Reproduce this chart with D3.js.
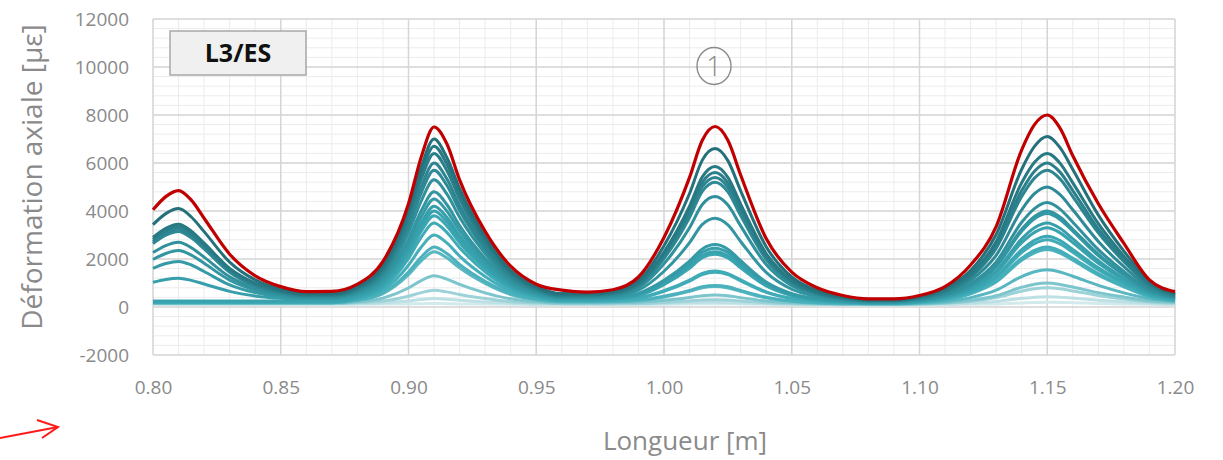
<!DOCTYPE html>
<html>
<head>
<meta charset="utf-8">
<script src="https://cdn.jsdelivr.net/npm/d3@7"></script>
<style>
  body { margin: 0; background: #fff; }
  svg { display: block; font-family: "Open Sans", sans-serif; }
</style>
</head>
<body>
<div id="chart"></div>
<script>
// positions along the bar [m]
const lengths = [0.80, 0.805, 0.81, 0.815, 0.82, 0.83, 0.84, 0.85, 0.86, 0.87, 0.88, 0.89, 0.90, 0.905, 0.91, 0.915,
  0.92, 0.93, 0.94, 0.95, 0.96, 0.97, 0.98, 0.99, 1.00, 1.01, 1.015, 1.02, 1.025, 1.03, 1.04, 1.05, 1.06, 1.07,
  1.08, 1.09, 1.10, 1.11, 1.12, 1.13, 1.14, 1.145, 1.15, 1.155, 1.16, 1.17, 1.18, 1.19, 1.20];

// last (max) load step, drawn in red
const envelope = [4050, 4600, 4850, 4450, 3700, 2200, 1300, 850, 640, 650, 950, 1900, 4300, 6250, 7500, 6800,
  5300, 3150, 1700, 950, 700, 620, 720, 1250, 2900, 5400, 6950, 7520, 6950, 5500, 2850, 1450, 800, 480,
  340, 340, 480, 850, 1750, 3350, 6550, 7600, 8000, 7450, 6300, 4300, 2650, 1130, 640];

// earlier load steps, highest first
const load01 = [3430, 3890, 4100, 3750, 3140, 1870, 1130, 740, 560, 560, 850, 1720, 4100, 5840, 7000, 6230,
  4940, 2940, 1530, 850, 560, 560, 650, 1100, 2550, 4730, 6120, 6600, 6100, 4840, 2510, 1250, 680, 430,
  300, 300, 440, 780, 1520, 3020, 5740, 6690, 7100, 6640, 5730, 3830, 2330, 1080, 560];
const load02 = [2900, 3280, 3450, 3160, 2660, 1610, 1000, 680, 530, 530, 810, 1640, 3920, 5590, 6700, 5960,
  4730, 2810, 1460, 810, 530, 530, 610, 1010, 2290, 4200, 5420, 5850, 5400, 4290, 2230, 1120, 610, 390,
  280, 280, 400, 710, 1380, 2730, 5180, 6030, 6400, 5990, 5170, 3470, 2120, 1000, 530];
const load03 = [2810, 3180, 3350, 3070, 2580, 1560, 960, 640, 500, 500, 770, 1560, 3750, 5340, 6400, 5690,
  4510, 2680, 1390, 770, 500, 500, 580, 960, 2180, 4020, 5190, 5600, 5170, 4110, 2140, 1070, 590, 380,
  270, 270, 390, 670, 1300, 2560, 4850, 5660, 6000, 5620, 4850, 3250, 1990, 940, 500];
const load04 = [2720, 3080, 3250, 2970, 2500, 1510, 920, 620, 480, 480, 730, 1470, 3520, 5010, 6000, 5340,
  4230, 2520, 1310, 730, 480, 480, 550, 920, 2100, 3880, 5010, 5400, 4990, 3960, 2060, 1030, 570, 360,
  260, 260, 370, 640, 1240, 2440, 4610, 5370, 5700, 5340, 4600, 3090, 1890, 900, 480];
const load05 = [2640, 2990, 3150, 2880, 2420, 1450, 880, 590, 450, 450, 690, 1400, 3340, 4760, 5700, 5070,
  4020, 2390, 1240, 690, 450, 450, 520, 880, 2020, 3730, 4820, 5200, 4800, 3810, 1980, 990, 550, 350,
  250, 250, 350, 580, 1110, 2150, 4050, 4720, 5000, 4680, 4050, 2730, 1680, 810, 450];
const load06 = [2270, 2560, 2700, 2470, 2080, 1260, 790, 530, 420, 420, 640, 1300, 3100, 4420, 5300, 4710,
  3740, 2230, 1150, 640, 420, 420, 480, 800, 1800, 3300, 4270, 4600, 4250, 3380, 1770, 890, 500, 330,
  240, 240, 320, 530, 980, 1880, 3530, 4100, 4350, 4080, 3530, 2390, 1480, 730, 420];
const load07 = [1980, 2230, 2350, 2160, 1820, 1120, 710, 500, 400, 400, 600, 1190, 2820, 4010, 4800, 4270,
  3390, 2030, 1060, 600, 400, 400, 450, 700, 1490, 2680, 3440, 3700, 3420, 2730, 1440, 740, 430, 290,
  220, 220, 300, 490, 900, 1730, 3240, 3770, 4000, 3750, 3240, 2200, 1370, 690, 400];
const load08 = [1610, 1810, 1900, 1750, 1480, 920, 600, 430, 350, 350, 540, 1100, 2630, 3750, 4500, 4000,
  3180, 1900, 990, 560, 370, 370, 400, 570, 1110, 1910, 2420, 2600, 2410, 1930, 1040, 560, 340, 250,
  200, 200, 270, 460, 870, 1680, 3160, 3680, 3900, 3650, 3160, 2140, 1330, 660, 380];
const load09 = [1030, 1150, 1200, 1110, 960, 650, 460, 360, 320, 320, 500, 1020, 2450, 3500, 4200, 3740,
  2970, 1770, 920, 510, 340, 340, 370, 530, 1040, 1800, 2280, 2450, 2270, 1820, 980, 530, 330, 240,
  190, 190, 260, 420, 790, 1510, 2840, 3300, 3500, 3280, 2840, 1930, 1200, 600, 350];
const load10 = [250, 250, 250, 250, 250, 250, 250, 250, 250, 250, 420, 930, 2310, 3330, 4000, 3560,
  2820, 1680, 870, 490, 320, 320, 350, 500, 970, 1690, 2140, 2300, 2130, 1710, 920, 500, 310, 220,
  180, 180, 240, 400, 740, 1430, 2680, 3110, 3300, 3090, 2680, 1820, 1130, 570, 330];
const load11 = [220, 220, 220, 220, 220, 220, 220, 220, 220, 220, 380, 860, 2190, 3160, 3800, 3380,
  2680, 1600, 830, 460, 300, 300, 330, 470, 930, 1610, 2050, 2200, 2040, 1630, 880, 480, 290, 210,
  170, 170, 230, 370, 670, 1280, 2390, 2780, 2950, 2770, 2400, 1630, 1020, 520, 310];
const load12 = [200, 200, 200, 200, 200, 200, 200, 200, 200, 200, 350, 790, 2020, 2910, 3500, 3110,
  2470, 1470, 760, 420, 270, 270, 290, 380, 680, 1120, 1400, 1500, 1390, 1130, 630, 360, 240, 190,
  160, 160, 210, 350, 640, 1220, 2270, 2640, 2800, 2630, 2280, 1550, 980, 500, 300];
const load13 = [200, 200, 200, 200, 200, 200, 200, 200, 200, 200, 330, 700, 1740, 2500, 3000, 2670,
  2120, 1270, 660, 370, 250, 250, 270, 360, 650, 1080, 1350, 1450, 1350, 1090, 610, 350, 230, 180,
  150, 150, 200, 310, 570, 1090, 2030, 2360, 2500, 2340, 2030, 1390, 880, 460, 280];
const load14 = [180, 180, 180, 180, 180, 180, 180, 180, 180, 180, 280, 600, 1460, 2080, 2500, 2230,
  1770, 1070, 570, 330, 230, 230, 240, 290, 450, 690, 850, 900, 840, 690, 410, 250, 190, 160,
  140, 140, 190, 300, 550, 1040, 1950, 2260, 2400, 2250, 1950, 1330, 840, 430, 260];
const load15 = [180, 180, 180, 180, 180, 180, 180, 180, 180, 180, 280, 560, 1350, 1920, 2300, 2050,
  1630, 980, 520, 300, 210, 210, 220, 270, 420, 650, 800, 850, 790, 650, 380, 240, 170, 140,
  130, 130, 160, 230, 390, 700, 1270, 1470, 1550, 1460, 1280, 900, 590, 350, 240];
const load16 = [160, 160, 160, 160, 160, 160, 160, 160, 160, 160, 210, 370, 790, 1100, 1300, 1160,
  940, 590, 340, 220, 170, 170, 180, 200, 280, 400, 470, 500, 470, 390, 250, 180, 140, 130,
  120, 120, 140, 180, 280, 470, 820, 950, 1000, 940, 830, 600, 420, 260, 200];
const load17 = [150, 150, 150, 150, 150, 150, 150, 150, 150, 150, 180, 250, 450, 600, 700, 630,
  520, 350, 220, 170, 140, 140, 140, 150, 190, 250, 290, 300, 290, 250, 180, 140, 120, 110,
  110, 110, 120, 160, 230, 390, 660, 760, 800, 760, 670, 480, 330, 210, 160];
const load18 = [130, 130, 130, 130, 130, 130, 130, 130, 130, 130, 140, 170, 250, 310, 350, 320,
  280, 210, 160, 130, 120, 120, 120, 130, 150, 180, 190, 200, 190, 170, 140, 120, 110, 100,
  100, 100, 110, 120, 160, 230, 360, 410, 430, 410, 370, 280, 210, 150, 130];
const load19 = [110, 110, 110, 110, 110, 110, 110, 110, 110, 110, 110, 120, 140, 140, 150, 140,
  130, 120, 110, 100, 100, 100, 100, 100, 110, 130, 140, 140, 140, 130, 110, 100, 90, 90,
  90, 90, 90, 100, 110, 130, 170, 190, 200, 190, 180, 150, 130, 110, 100];

const loads = [load01, load02, load03, load04, load05, load06, load07, load08, load09, load10,
  load11, load12, load13, load14, load15, load16, load17, load18, load19];
const loadColours = ['#24717b', '#277984', '#2a7f8a', '#2c8590', '#2e8a96', '#30909c', '#3295a1', '#349aa6',
  '#369fab', '#38a3af', '#3ba7b3', '#3fabb7', '#44afba', '#4bb2bd', '#58b7c1', '#7cc5cd', '#9cd2d8',
  '#bde0e4', '#d3eaed'];

const xTicks = [0.80, 0.85, 0.90, 0.95, 1.00, 1.05, 1.10, 1.15, 1.20];
const yTicks = [-2000, 0, 2000, 4000, 6000, 8000, 10000, 12000];

const width = 1223, height = 460;
const margin = { left: 153, right: 48, top: 19, bottom: 105 };

const svg = d3.select('#chart').append('svg')
  .attr('width', width).attr('height', height);

const x = d3.scaleLinear().domain([0.80, 1.20]).range([margin.left, width - margin.right]);
const y = d3.scaleLinear().domain([-2000, 12000]).range([height - margin.bottom, margin.top]);

// grid: minor then major
const grid = svg.append('g');
grid.selectAll('.vmin').data(d3.range(0.80, 1.2001, 0.01)).enter().append('line')
  .attr('x1', d => x(d)).attr('x2', d => x(d)).attr('y1', y(-2000)).attr('y2', y(12000))
  .attr('stroke', '#ececec').attr('stroke-width', 1);
grid.selectAll('.hmin').data(d3.range(-2000, 12001, 400)).enter().append('line')
  .attr('y1', d => y(d)).attr('y2', d => y(d)).attr('x1', x(0.80)).attr('x2', x(1.20))
  .attr('stroke', '#ececec').attr('stroke-width', 1);
grid.selectAll('.vmaj').data(xTicks).enter().append('line')
  .attr('x1', d => x(d)).attr('x2', d => x(d)).attr('y1', y(-2000)).attr('y2', y(12000))
  .attr('stroke', '#d6d6d6').attr('stroke-width', 1.5);
grid.selectAll('.hmaj').data(yTicks).enter().append('line')
  .attr('y1', d => y(d)).attr('y2', d => y(d)).attr('x1', x(0.80)).attr('x2', x(1.20))
  .attr('stroke', '#d6d6d6').attr('stroke-width', 1.5);

// axes (plain hyphen for the negative label, like the original)
const yAxis = svg.append('g').attr('transform', `translate(${margin.left},0)`)
  .call(d3.axisLeft(y).tickValues(yTicks).tickSize(0).tickPadding(24).tickFormat(d => String(d)));
const xAxis = svg.append('g').attr('transform', `translate(0,${y(-2000)})`)
  .call(d3.axisBottom(x).tickValues(xTicks).tickSize(0).tickPadding(26).tickFormat(d3.format('.2f')));
[xAxis, yAxis].forEach(a => {
  a.select('.domain').remove();
  a.selectAll('text').attr('fill', '#8a8a8a').style('font-size', '19px')
    .style('font-family', '"Open Sans", sans-serif');
});

// curves
const line = d3.line()
  .x((d, i) => x(lengths[i]))
  .y(d => y(d))
  .curve(d3.curveMonotoneX);

const curves = svg.append('g').attr('fill', 'none').attr('stroke-linejoin', 'round');
loads.slice().reverse().forEach((s, k) => {
  const i = loads.length - 1 - k;
  curves.append('path').attr('d', line(s))
    .attr('stroke', loadColours[i]).attr('stroke-width', 3);
});
curves.append('path').attr('d', line(envelope))
  .attr('stroke', '#c00000').attr('stroke-width', 3.2);

// label box
svg.append('rect').attr('x', 170).attr('y', 31).attr('width', 136).attr('height', 44)
  .attr('fill', '#f0f0f0').attr('stroke', '#a8a8a8').attr('stroke-width', 1.5);
svg.append('text').attr('x', 238).attr('y', 62).attr('text-anchor', 'middle')
  .attr('fill', '#111').style('font-size', '25px').style('font-weight', 'bold')
  .text('L3/ES');

// circled marker
svg.append('ellipse').attr('cx', 714).attr('cy', 66).attr('rx', 17).attr('ry', 18.5)
  .attr('fill', 'none').attr('stroke', '#8a8a8a').attr('stroke-width', 1.4);
svg.append('text').attr('x', 714).attr('y', 76).attr('text-anchor', 'middle')
  .attr('fill', '#8a8a8a').style('font-size', '27px').style('font-weight', 300).text('1');

// axis titles
svg.append('text').attr('transform', 'translate(42,177) rotate(-90)')
  .attr('text-anchor', 'middle').attr('fill', '#8a8a8a').style('font-size', '28px')
  .text('Déformation axiale [με]');
svg.append('text').attr('x', 685).attr('y', 450).attr('text-anchor', 'middle')
  .attr('fill', '#8a8a8a').style('font-size', '26px')
  .text('Longueur [m]');

// red arrow at bottom left
const arrow = svg.append('g').attr('stroke', '#ff1a1a').attr('stroke-width', 2).attr('fill', 'none');
arrow.append('line').attr('x1', 0).attr('y1', 438).attr('x2', 58).attr('y2', 427);
arrow.append('path').attr('d', 'M37,420 L58,427 L42,438');
</script>
</body>
</html>
